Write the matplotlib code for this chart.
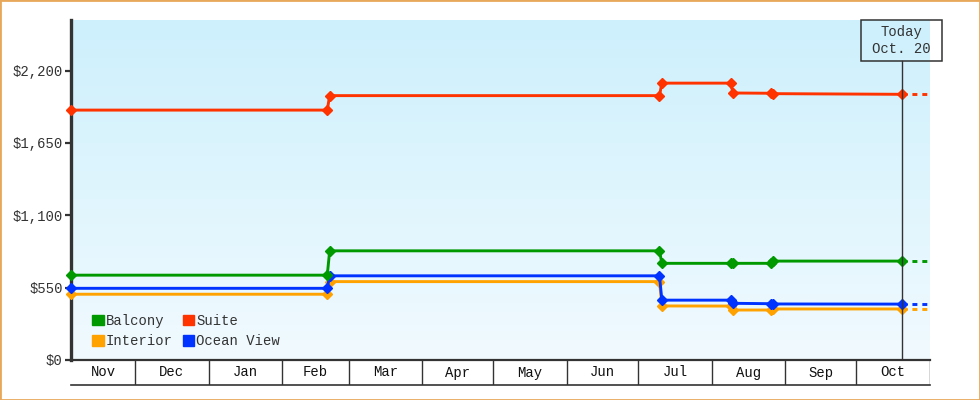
import matplotlib
matplotlib.use("Agg")
import matplotlib.pyplot as plt
import matplotlib.dates as mdates
from matplotlib.patches import Patch, Rectangle
from matplotlib.transforms import blended_transform_factory
import numpy as np
import pandas as pd

# price history, one point before and after each change
dates = pd.to_datetime([
    "2024-11-04", "2025-02-20", "2025-02-21", "2025-07-10", "2025-07-11",
    "2025-08-09", "2025-08-10", "2025-08-26", "2025-08-27", "2025-10-20",
])
balcony = [645, 645, 830, 830, 735, 735, 735, 735, 752, 752]
interior = [500, 500, 596, 596, 411, 410, 380, 380, 388, 388]
suite = [1900, 1900, 2010, 2010, 2105, 2105, 2030, 2028, 2025, 2020]
ocean_view = [545, 545, 640, 640, 455, 455, 431, 428, 426, 425]

series_names = ["Balcony", "Interior", "Suite", "Ocean View"]
series_values = [balcony, interior, suite, ocean_view]
series_colors = ["#009900", "#ffa200", "#ff3300", "#0033ff"]
draw_order = [1, 3, 0, 2]

today = pd.Timestamp("2025-10-20")
today_label = "Today\nOct. 20"
forecast_end = pd.Timestamp("2025-10-31")

x_start = pd.Timestamp("2024-11-04")
x_end = pd.Timestamp("2025-11-01")
month_starts = pd.date_range("2024-12-01", "2025-11-01", freq="MS")
month_labels = ["Nov", "Dec", "Jan", "Feb", "Mar", "Apr",
                "May", "Jun", "Jul", "Aug", "Sep", "Oct"]

y_ticks = [0, 550, 1100, 1650, 2200]
y_max = 2585

ink = "#333333"
fs = 10
plt.rcParams["font.family"] = ["Liberation Mono", "DejaVu Sans Mono"]
plt.rcParams["font.size"] = fs

fig = plt.figure(figsize=(9.8, 4), dpi=100)
ax = fig.add_axes([71 / 980, 40 / 400, 859 / 980, 340 / 400])

# background gradient
top = np.array([205, 240, 252]) / 255
bottom = np.array([241, 250, 255]) / 255
t = np.linspace(0, 1, 256)[:, None]
grad = (top * (1 - t) + bottom * t)[:, None, :]
ax.imshow(grad, extent=[0, 1, 0, 1], transform=ax.transAxes,
          aspect="auto", zorder=0)

for i in draw_order:
    ax.plot(dates, series_values[i], color=series_colors[i], lw=2.1,
            marker="D", ms=4.6, zorder=3, clip_on=False)
    ax.plot([today, forecast_end], [series_values[i][-1]] * 2,
            color=series_colors[i], lw=2.1, ls=(0, (1.7, 1.7)), zorder=3)

ax.set_xlim(x_start, x_end)
ax.set_ylim(0, y_max)
ax.set_yticks(y_ticks)
ax.set_yticklabels([f"${v:,}" for v in y_ticks])
ax.set_xticks([])
ax.tick_params(axis="y", direction="out", length=4, width=1.6,
               color=ink, labelcolor=ink, pad=2, labelsize=fs)
for s in ["top", "right"]:
    ax.spines[s].set_visible(False)
ax.spines["left"].set_linewidth(2.4)
ax.spines["left"].set_color(ink)
ax.spines["left"].set_zorder(2.5)
ax.spines["bottom"].set_linewidth(1.6)
ax.spines["bottom"].set_color(ink)

# today marker line and box (box about 34 days wide)
trans = blended_transform_factory(ax.transData, ax.transAxes)
box_top = 1.0
box_bottom = 0.88
half_w = 17.1
ax.axvline(today, ymin=0, ymax=box_bottom, color=ink, lw=1, zorder=4)
ax.add_patch(Rectangle((mdates.date2num(today) - half_w, box_bottom),
                       2 * half_w, box_top - box_bottom, transform=trans,
                       fill=False, ec=ink, lw=1.1, clip_on=False, zorder=5))
ax.text(today, (box_top + box_bottom) / 2, today_label, transform=trans,
        ha="center", va="center", multialignment="center", color=ink,
        linespacing=1.25, fontsize=fs, clip_on=False, zorder=5)

handles = [Patch(color=series_colors[i]) for i in range(4)]
ax.legend(handles, series_names, ncol=2, loc="lower left",
          bbox_to_anchor=(0.025, 0.035), frameon=False, borderpad=0,
          borderaxespad=0, handlelength=0.8, handleheight=0.8,
          handletextpad=0.15, columnspacing=0.75, labelspacing=0.45,
          labelcolor=ink, fontsize=fs)

# month band under the chart
band = fig.add_axes([71 / 980, 15 / 400, 859 / 980, 25 / 400])
band.set_xlim(x_start, x_end)
band.set_ylim(0, 1)
band.set_facecolor("none")
band.set_xticks([])
band.set_yticks([])
for s in ["top", "left", "right"]:
    band.spines[s].set_visible(False)
band.spines["bottom"].set_color(ink)
band.spines["bottom"].set_linewidth(1.2)
for m in month_starts:
    band.axvline(m, color=ink, lw=1)
edges = [x_start] + list(month_starts)
for lab, a, b in zip(month_labels, edges[:-1], edges[1:]):
    band.text(a + (b - a) / 2, 0.5, lab, ha="center", va="center",
              color="#111111", fontsize=fs)

fig.patches.append(Rectangle((0, 0), 1, 1, transform=fig.transFigure,
                             fill=False, ec="#e8a85c", lw=2))

fig.savefig("out.png", dpi=100)
